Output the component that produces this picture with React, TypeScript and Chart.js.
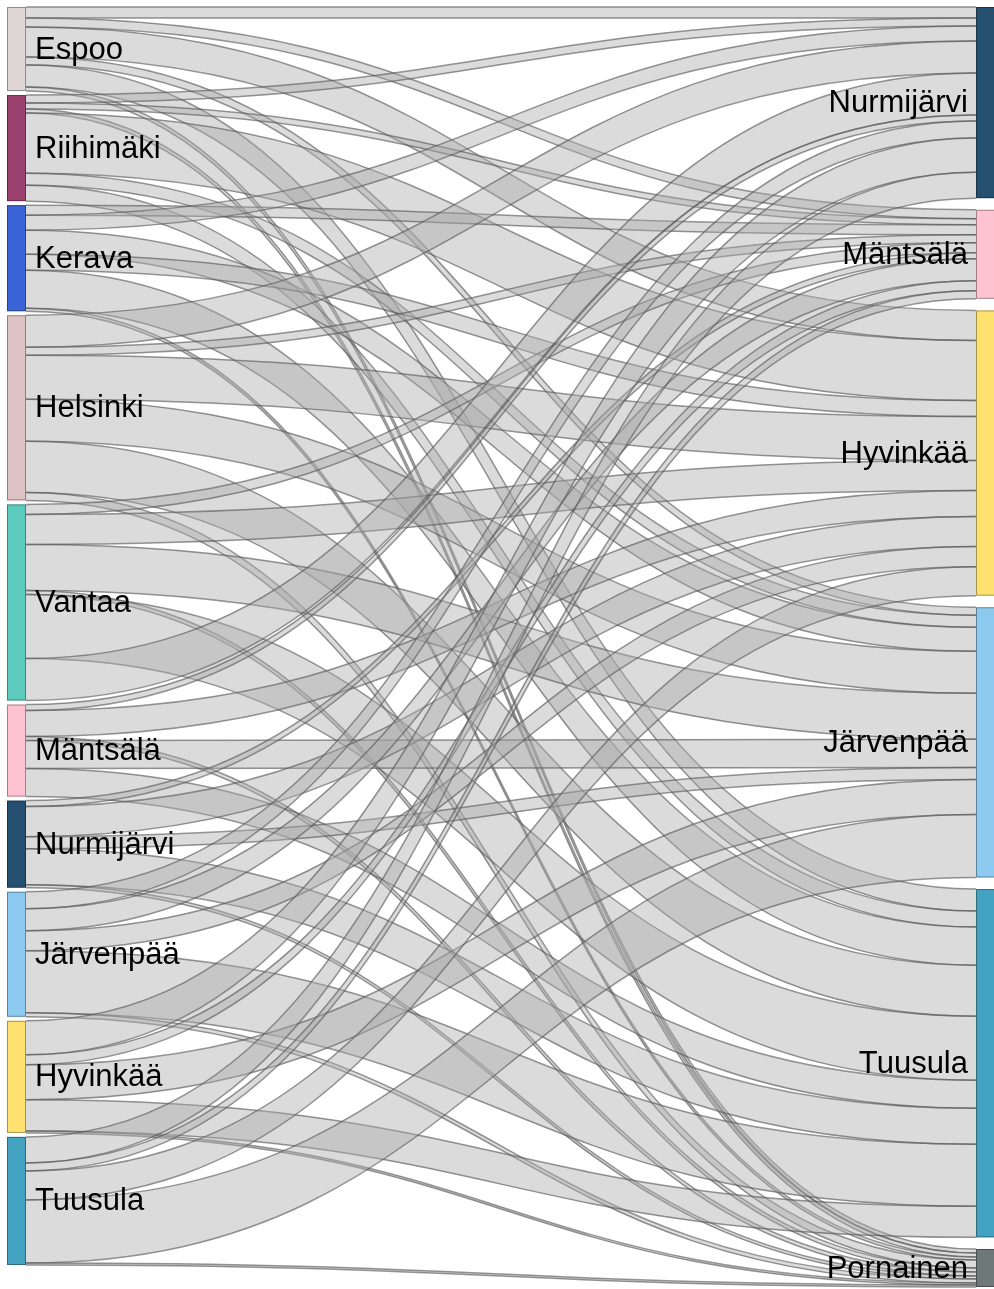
import React, { useEffect, useRef } from 'react';
import { Chart, registerables } from 'chart.js';
Chart.register(...registerables);

// Left column (origin municipalities), top to bottom
const sourceNodes = ['Espoo', 'Riihimäki', 'Kerava', 'Helsinki', 'Vantaa', 'Mäntsälä', 'Nurmijärvi', 'Järvenpää', 'Hyvinkää', 'Tuusula'];
// Right column (destination municipalities), top to bottom
const targetNodes = ['Nurmijärvi', 'Mäntsälä', 'Hyvinkää', 'Järvenpää', 'Tuusula', 'Pornainen'];

// Flows per source: [target name, value], listed in the order they leave the source node
const flowsEspoo: [string, number][] = [['Nurmijärvi', 11], ['Mäntsälä', 9], ['Hyvinkää', 30], ['Järvenpää', 8], ['Tuusula', 22], ['Pornainen', 4]];
const flowsRiihimaki: [string, number][] = [['Nurmijärvi', 8], ['Mäntsälä', 6], ['Pornainen', 4], ['Hyvinkää', 60], ['Järvenpää', 12], ['Tuusula', 16]];
const flowsKerava: [string, number][] = [['Mäntsälä', 10], ['Nurmijärvi', 15], ['Järvenpää', 24], ['Hyvinkää', 16], ['Tuusula', 38], ['Pornainen', 3]];
const flowsHelsinki: [string, number][] = [['Nurmijärvi', 32], ['Mäntsälä', 8], ['Hyvinkää', 44], ['Järvenpää', 42], ['Tuusula', 51], ['Pornainen', 8]];
const flowsVantaa: [string, number][] = [['Mäntsälä', 10], ['Hyvinkää', 30], ['Järvenpää', 46], ['Pornainen', 4], ['Tuusula', 64], ['Nurmijärvi', 42]];
const flowsMantsala: [string, number][] = [['Nurmijärvi', 6], ['Hyvinkää', 26], ['Pornainen', 4], ['Järvenpää', 28], ['Tuusula', 28]];
const flowsNurmijarvi: [string, number][] = [['Mäntsälä', 6], ['Hyvinkää', 30], ['Järvenpää', 12], ['Tuusula', 36], ['Pornainen', 3]];
const flowsJarvenpaa: [string, number][] = [['Nurmijärvi', 17], ['Mäntsälä', 22], ['Hyvinkää', 20], ['Tuusula', 62], ['Pornainen', 4]];
const flowsHyvinkaa: [string, number][] = [['Nurmijärvi', 34], ['Mäntsälä', 10], ['Järvenpää', 35], ['Tuusula', 31], ['Pornainen', 2]];
const flowsTuusula: [string, number][] = [['Nurmijärvi', 26], ['Mäntsälä', 8], ['Hyvinkää', 29], ['Järvenpää', 63], ['Pornainen', 2]];

const flowsBySource = [flowsEspoo, flowsRiihimaki, flowsKerava, flowsHelsinki, flowsVantaa, flowsMantsala, flowsNurmijarvi, flowsJarvenpaa, flowsHyvinkaa, flowsTuusula];

const nodeColors: Record<string, string> = {
  'Espoo': '#ddd6d4',
  'Riihimäki': '#9b4170',
  'Kerava': '#3b64d6',
  'Helsinki': '#dfc3c4',
  'Vantaa': '#5ccabd',
  'Mäntsälä': '#ffc2d0',
  'Nurmijärvi': '#26506f',
  'Järvenpää': '#8ccaef',
  'Hyvinkää': '#ffe170',
  'Tuusula': '#42a2c0',
  'Pornainen': '#6e7878',
};

const LEFT_GAP = 4;
const RIGHT_GAP = 11.6;
const NODE_W = 19;
const FONT = '31px "Liberation Sans", Arial, sans-serif';

const sum = (a: number[]) => a.reduce((s, v) => s + v, 0);

export default function App() {
  const ref = useRef<HTMLCanvasElement | null>(null);
  useEffect(() => {
    document.body.style.margin = '0';
    const canvas = ref.current!;
    const srcTotals = flowsBySource.map(f => sum(f.map(l => l[1])));
    const tgtTotals = targetNodes.map(t => sum(flowsBySource.map(f => sum(f.filter(l => l[0] === t).map(l => l[1])))));
    const yMax = Math.max(sum(srcTotals) + LEFT_GAP * (srcTotals.length - 1), sum(tgtTotals) + RIGHT_GAP * (tgtTotals.length - 1));

    const sankeyPlugin = {
      id: 'sankeyDraw',
      afterDraw(chart: any) {
        const ctx = chart.ctx as CanvasRenderingContext2D;
        const xs = chart.scales.x;
        const ys = chart.scales.y;
        const srcTop: number[] = [];
        let acc = 0;
        srcTotals.forEach((v) => { srcTop.push(acc); acc += v + LEFT_GAP; });
        const tgtTop: number[] = [];
        acc = 0;
        tgtTotals.forEach((v) => { tgtTop.push(acc); acc += v + RIGHT_GAP; });

        const xL0 = xs.getPixelForValue(0);
        const xL1 = xL0 + NODE_W;
        const xR1 = xs.getPixelForValue(1);
        const xR0 = xR1 - NODE_W + 1;

        // links: stacked at the source in listed order, at the target in source order
        const tAcc = tgtTop.slice();
        const links: { y0t: number; y0b: number; y1t: number; y1b: number }[] = [];
        flowsBySource.forEach((flows, si) => {
          let sAcc = srcTop[si];
          flows.forEach(([t, v]) => {
            const ti = targetNodes.indexOf(t);
            links.push({ y0t: sAcc, y0b: sAcc + v, y1t: tAcc[ti], y1b: tAcc[ti] + v });
            sAcc += v;
            tAcc[ti] += v;
          });
        });
        const xm = (xL1 + xR0) / 2;
        ctx.save();
        links.forEach(l => {
          const a = ys.getPixelForValue(l.y0t), b = ys.getPixelForValue(l.y0b);
          const c = ys.getPixelForValue(l.y1t), d = ys.getPixelForValue(l.y1b);
          ctx.beginPath();
          ctx.moveTo(xL1, a);
          ctx.bezierCurveTo(xm, a, xm, c, xR0, c);
          ctx.lineTo(xR0, d);
          ctx.bezierCurveTo(xm, d, xm, b, xL1, b);
          ctx.closePath();
          ctx.fillStyle = 'rgba(170,170,170,0.42)';
          ctx.fill();
          ctx.beginPath();
          ctx.moveTo(xL1, a);
          ctx.bezierCurveTo(xm, a, xm, c, xR0, c);
          ctx.moveTo(xR0, d);
          ctx.bezierCurveTo(xm, d, xm, b, xL1, b);
          ctx.strokeStyle = 'rgba(85,85,85,0.62)';
          ctx.lineWidth = 1.5;
          ctx.stroke();
        });

        const drawNode = (x0: number, x1: number, vTop: number, v: number, name: string) => {
          const y0 = ys.getPixelForValue(vTop);
          const y1 = ys.getPixelForValue(vTop + v);
          ctx.fillStyle = nodeColors[name];
          ctx.fillRect(x0, y0, x1 - x0, y1 - y0);
          ctx.strokeStyle = 'rgba(0,0,0,0.35)';
          ctx.lineWidth = 1;
          ctx.strokeRect(x0 + 0.5, y0 + 0.5, x1 - x0 - 1, y1 - y0 - 1);
        };
        sourceNodes.forEach((n, i) => drawNode(xL0, xL1, srcTop[i], srcTotals[i], n));
        targetNodes.forEach((n, i) => drawNode(xR0, xR1 + 1, tgtTop[i], tgtTotals[i], n));

        ctx.font = FONT;
        ctx.fillStyle = '#000';
        ctx.textBaseline = 'middle';
        ctx.textAlign = 'left';
        sourceNodes.forEach((n, i) => {
          const y = ys.getPixelForValue(srcTop[i] + srcTotals[i] / 2);
          ctx.fillText(n, xL1 + 9, y + 1);
        });
        ctx.textAlign = 'right';
        targetNodes.forEach((n, i) => {
          const y = ys.getPixelForValue(tgtTop[i] + tgtTotals[i] / 2);
          ctx.fillText(n, xR0 - 8, y + 1);
        });
        ctx.restore();
      },
    };

    const chart = new Chart(canvas, {
      type: 'scatter',
      data: { datasets: [{ data: [] }] },
      options: {
        animation: false,
        responsive: false,
        maintainAspectRatio: false,
        layout: { padding: { left: 7, right: 0, top: 7, bottom: 2 } },
        plugins: { legend: { display: false }, tooltip: { enabled: false } },
        scales: {
          x: { type: 'linear', min: 0, max: 1, display: false },
          y: { type: 'linear', min: 0, max: yMax, reverse: true, display: false },
        },
      },
      plugins: [sankeyPlugin],
    });
    return () => chart.destroy();
  }, []);
  return <canvas ref={ref} width={994} height={1289} style={{ display: 'block' }} />;
}
